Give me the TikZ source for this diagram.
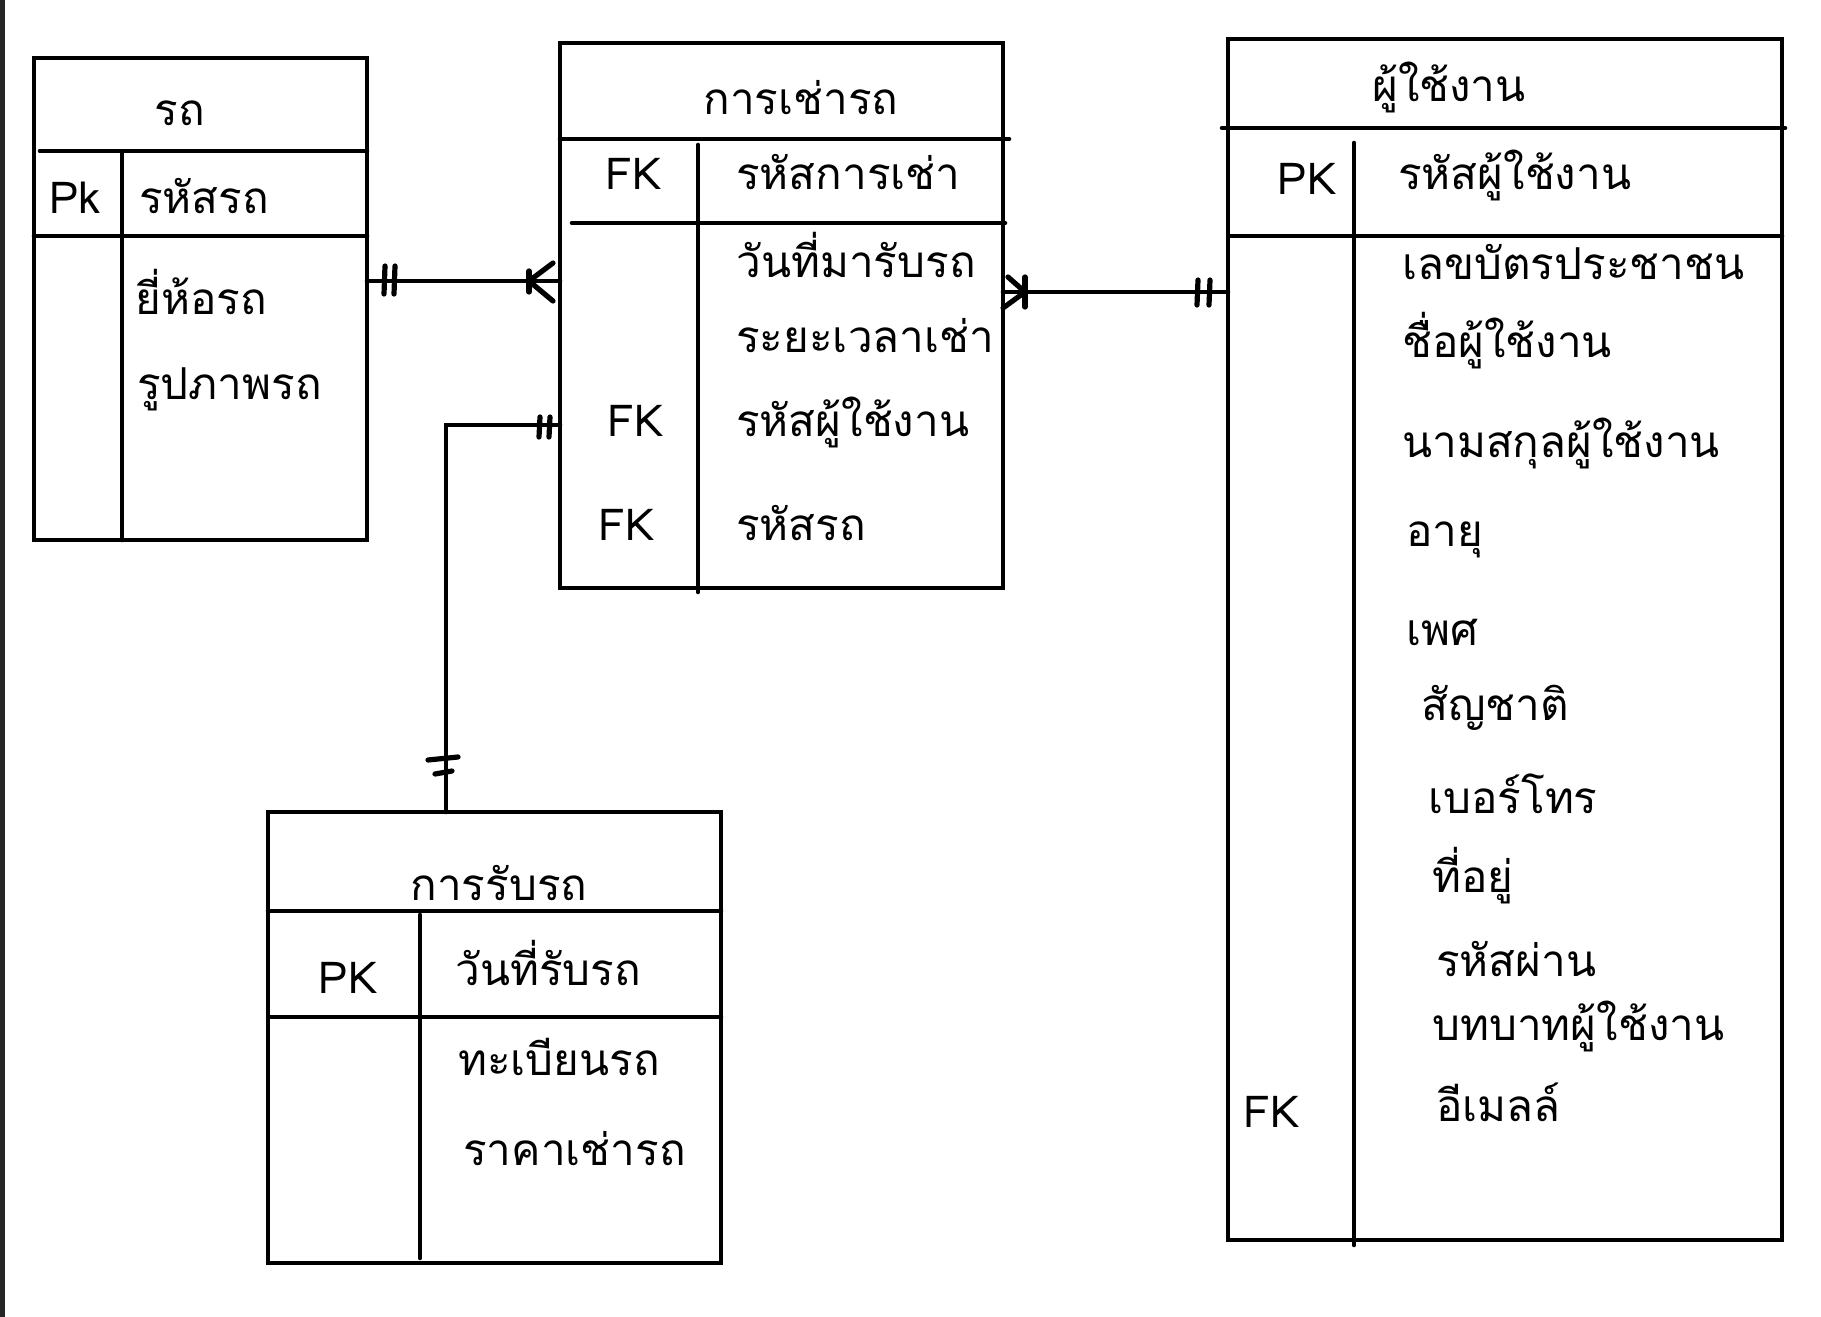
\documentclass[tikz,border=0pt]{standalone}
\usepackage{fontspec}
\newfontfamily\thai[Script=Thai]{Loma}
\begin{document}
\begin{tikzpicture}[x=0.5pt,y=-0.5pt,line width=2.3pt,line cap=round,
  entity/.style={draw,inner sep=0pt,outer sep=0pt,anchor=north west},
  txt/.style={font=\thai\fontsize{22}{26}\selectfont,inner sep=0pt},
  attr/.style={txt,anchor=base west},
  title/.style={txt,anchor=base},
  key/.style={txt,anchor=base},
  conn/.style={line width=2.3pt},
  tick/.style={line width=2.6pt}]
\useasboundingbox (0,0) rectangle (1821,1317);
\fill[black!85] (0,0) rectangle (5,1317);

% ---- entity boxes ----
\node[entity,minimum width=166.5pt,minimum height=241pt] (car) at (34,58) {};
\node[entity,minimum width=221.5pt,minimum height=272.5pt] (rent) at (560,43) {};
\node[entity,minimum width=277pt,minimum height=600.5pt] (user) at (1228,39) {};
\node[entity,minimum width=226.5pt,minimum height=225.5pt] (ret) at (268,812) {};

% car internals
\draw (40,151) -- (367,151);
\draw (122,154) -- (122,540);
\draw (34,236) -- (367,236);
% rental internals
\draw (560,139) -- (1009,139);
\draw (698,145) -- (698,592);
\draw (572,223) -- (1005,223);
% user internals
\draw (1222,128) -- (1785,128);
\draw (1354,143) -- (1354,1245);
\draw (1231,236) -- (1782,236);
% return internals
\draw (268,911) -- (721,911);
\draw (420,915) -- (420,1258);
\draw (270,1017) -- (721,1017);

% ---- texts: car ----
\node[title] (carT) at (180,125) {รถ};
\node[key] (carPK) at (75,213) {Pk};
\node[attr] (carA1) at (137,213) {รหัสรถ};
\node[attr] (carA2) at (133,314) {ยี่ห้อรถ};
\node[attr] (carA3) at (135,399) {รูปภาพรถ};

% ---- texts: rental ----
\node[title] (rentT) at (801,114) {การเช่ารถ};
\node[key] (rentK1) at (634,189) {FK};
\node[attr] (rentA1) at (734,189) {รหัสการเช่า};
\node[attr] (rentA2) at (734,277) {วันที่มารับรถ};
\node[attr] (rentA3) at (734,352) {ระยะเวลาเช่า};
\node[key] (rentK4) at (636,436) {FK};
\node[attr] (rentA4) at (734,436) {รหัสผู้ใช้งาน};
\node[key] (rentK5) at (627,540) {FK};
\node[attr] (rentA5) at (734,540) {รหัสรถ};

% ---- texts: user ----
\node[title] (userT) at (1449,101) {ผู้ใช้งาน};
\node[key] (userPK) at (1307,194) {PK};
\node[attr] (userA1) at (1396,189) {รหัสผู้ใช้งาน};
\node[attr] (userA2) at (1400,279) {เลขบัตรประชาชน};
\node[attr] (userA3) at (1400,357) {ชื่อผู้ใช้งาน};
\node[attr] (userA4) at (1400,457) {นามสกุลผู้ใช้งาน};
\node[attr] (userA5) at (1404,546) {อายุ};
\node[attr] (userA6) at (1404,645) {เพศ};
\node[attr] (userA7) at (1419,720) {สัญชาติ};
\node[attr] (userA8) at (1426,813) {เบอร์โทร};
\node[attr] (userA9) at (1430,892) {ที่อยู่};
\node[attr] (userA10) at (1434,976) {รหัสผ่าน};
\node[attr] (userA11) at (1430,1040) {บทบาทผู้ใช้งาน};
\node[attr] (userA12) at (1434,1121) {อีเมลล์};
\node[key] (userFK) at (1272,1127) {FK};

% ---- texts: return ----
\node[title] (retT) at (499,900) {การรับรถ};
\node[key] (retPK) at (348,993) {PK};
\node[attr] (retA1) at (453,985) {วันที่รับรถ};
\node[attr] (retA2) at (456,1075) {ทะเบียนรถ};
\node[attr] (retA3) at (461,1165) {ราคาเช่ารถ};

% ---- connectors ----
\coordinate (y1) at (0,281);
\coordinate (y2) at (0,292);
\coordinate (y3) at (0,425);
\coordinate (bend) at (446,425);

% car -- rental : one-and-only-one to one-or-many
\draw[conn] (car.east |- y1) coordinate (c1s) -- (rent.west |- y1) coordinate (c1e);
\draw[tick] (c1s) ++(18,-15) -- ++(-1,28);
\draw[tick] (c1s) ++(28,-15) -- ++(-1,28);
\draw[tick] (c1e) ++(-31,-10) -- ++(0,21);
\draw[tick] (c1e) ++(-31,0) -- ++(24,-18);
\draw[tick] (c1e) ++(-31,0) -- ++(24,20);

% rental -- user
\draw[conn] (rent.east |- y2) coordinate (c2s) -- (user.west |- y2) coordinate (c2e);
\draw[tick] (c2s) ++(22,-15) -- ++(0,30);
\draw[tick] (c2s) ++(22,0) -- ++(-17,-15);
\draw[tick] (c2s) ++(22,0) -- ++(-22,16);
\draw[tick] (c2e) ++(-30,-12) -- ++(-1,25);
\draw[tick] (c2e) ++(-18,-12) -- ++(-1,25);

% rental -- return
\draw[conn] (rent.west |- y3) coordinate (c3s) -- (bend) -- (bend |- ret.north) coordinate (c3e);
\draw[tick] (c3s) ++(-20,-8) -- ++(-1,20);
\draw[tick] (c3s) ++(-10,-8) -- ++(-1,20);
\draw[tick] (c3e) ++(-18,-52) -- ++(30,-3);
\draw[tick] (c3e) ++(-11,-38) -- ++(17,-3);
\end{tikzpicture}
\end{document}
